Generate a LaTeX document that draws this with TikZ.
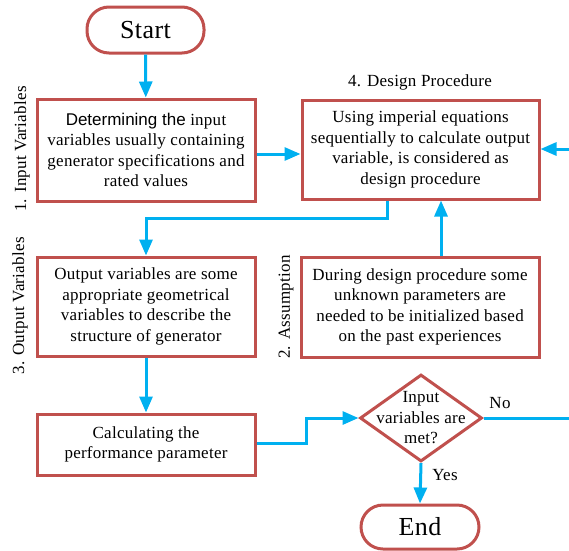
\documentclass[tikz,border=0pt]{standalone}
\usepackage{fontspec}
\setmainfont{Liberation Serif}[LetterSpace=1.5]
\newfontfamily\sansf{Liberation Sans}
\usetikzlibrary{arrows.meta,shapes.geometric,positioning}
\definecolor{bred}{HTML}{C0504D}
\definecolor{ablue}{HTML}{00B0F0}
\tikzset{
  procbox/.style={draw=bred,line width=3pt,fill=white,align=center,inner sep=0pt,
    font=\fontsize{17}{20.5}\selectfont},
  termbox/.style={draw=bred,line width=3pt,fill=white,rounded corners=22pt,inner sep=0pt,
    font=\fontsize{26}{30}\selectfont},
  decbox/.style={draw=bred,line width=3pt,fill=white,diamond,aspect=1.4,inner sep=0pt,align=center,
    font=\fontsize{17}{20.5}\selectfont},
  lbl/.style={font=\fontsize{17}{20.5}\selectfont,inner sep=0pt},
  conn/.style={draw=ablue,line width=3pt},
  arr/.style={conn,-{Triangle[length=16pt,width=13pt]}},
}
\begin{document}
\begin{tikzpicture}[x=1pt,y=-1pt]
\useasboundingbox (0,0) rectangle (569,550);
\node[termbox,minimum width=117pt,minimum height=46pt] (start) at (145.5,30) {Start};
\node[procbox,minimum width=218pt,minimum height=102pt] (b1) at (146,150)
  {{\sansf Determining the} input\\variables usually containing\\generator specifications and\\rated values};
\node[procbox,minimum width=237pt,minimum height=99pt] (b4) at (420.5,149.5)
  {Using imperial equations\\sequentially to calculate output\\variable, is considered as\\design procedure};
\node[procbox,minimum width=218pt,minimum height=99pt] (b3) at (146,306.5)
  {Output variables are some\\appropriate geometrical\\variables to describe the\\structure of generator};
\node[procbox,minimum width=238pt,minimum height=100pt] (b2) at (420,307)
  {During design procedure some\\unknown parameters are\\needed to be initialized based\\on the past experiences};
\node[procbox,minimum width=218pt,minimum height=61pt] (b5) at (146,444.5)
  {Calculating the\\performance parameter};
\node[decbox,minimum width=122pt,minimum height=87pt] (dec) at (421,418) {};
\node[lbl,align=center] (dect) at (421,418) {Input\\variables are\\met?};
\node[termbox,minimum width=118pt,minimum height=44pt] (end) at (420,527) {End};

\node[lbl,rotate=90] (l1) at (22,149) {1. Input  Variables};
\node[lbl,rotate=90] (l3) at (20,306) {3. Output Variables};
\node[lbl,rotate=90] (l2) at (286,307) {2. Assumption};
\node[lbl] (l4) at (420,82) {4. Design Procedure};
\node[lbl] (no) at (500,403) {No};
\node[lbl] (yes) at (445,475) {Yes};

\coordinate (rin) at (569,149);
\coordinate (rout) at (569,418);
\coordinate (k1) at (387,218);
\coordinate (k2) at (146,218);
\coordinate (k3) at (306,443);
\coordinate (k4) at (306,418);

\draw[arr] (start) -- (b1);
\draw[arr] ([yshift=-4pt]b1.east) -- ([yshift=-4pt]b1.east -| b4.west);
\draw[arr] (rin) -- (rin -| b4.east);
\draw[arr] ([xshift=21pt]b2.north) -- ([xshift=21pt]b2.north |- b4.south);
\draw[arr] (k1 |- b4.south) -- (k1) -- (k2) -- (b3.north);
\draw[arr] (b3) -- (b5);
\draw[arr] (b5.east |- k3) -- (k3) -- (k4) -- (dec.west);
\draw[conn] (dec.east) -- (rout);
\draw[arr] (dec.south) -- (end.north);
\end{tikzpicture}
\end{document}
